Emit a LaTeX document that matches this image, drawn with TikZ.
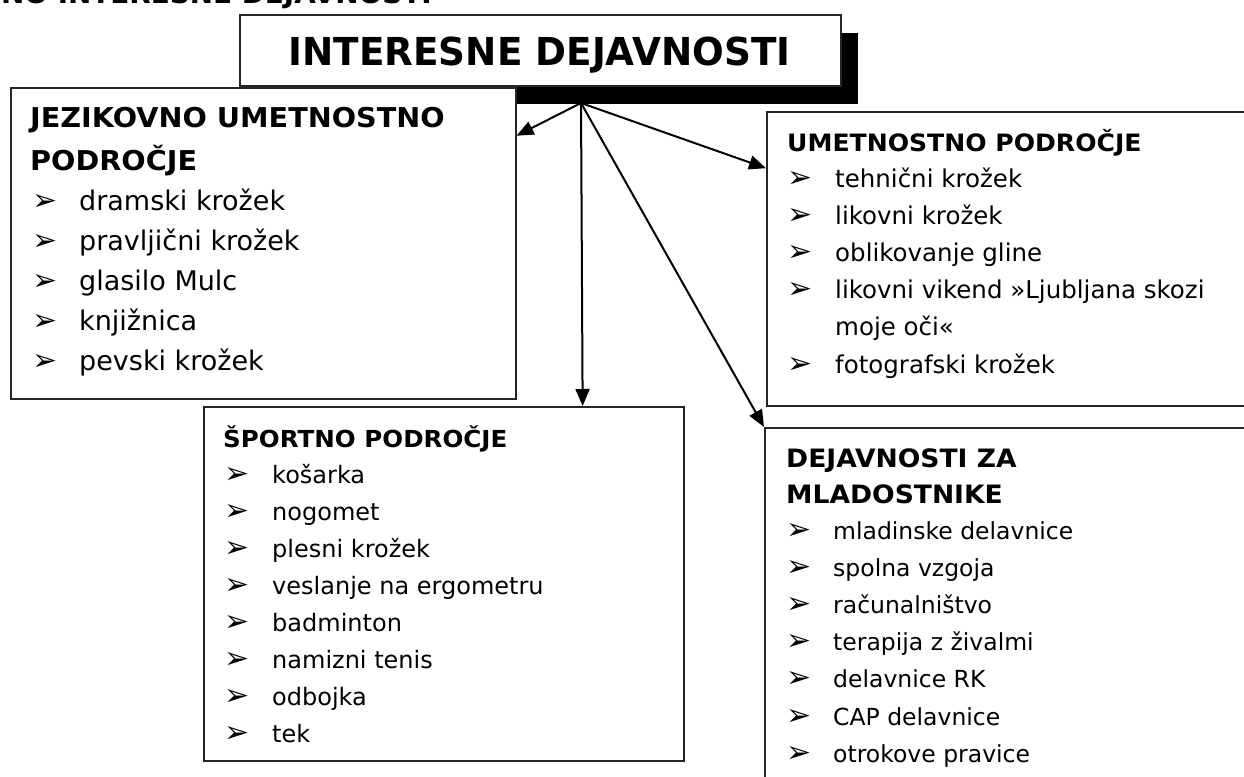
\documentclass[tikz,border=0pt]{standalone}
\usepackage{fontspec}
\setmainfont{DejaVu Sans}
\newfontfamily\hdfont{DejaVu Sans}[FakeStretch=1.05]
\newfontfamily\ttlfont{DejaVu Sans}[FakeStretch=0.97]
\usetikzlibrary{arrows.meta,shadows}
\newcommand{\fsz}[1]{\fontsize{#1}{#1}\selectfont}
\newcommand{\bulc}{\bfseries\fsz{30}➢}
\begin{document}
\begin{tikzpicture}[x=1pt,y=-1pt,
  box/.style={draw=black!85, line width=1.5pt, fill=white, inner sep=0pt, anchor=north west},
  hd/.style={anchor=base west, inner sep=0pt},
  itm/.style={anchor=base west, inner sep=0pt},
  bul/.style={anchor=base west, inner sep=0pt},
  arr/.style={line width=2pt, -{Triangle[length=17pt,width=14pt]}}]
\useasboundingbox (0,0) rectangle (1244,776);
\fill[white] (0,0) rectangle (1244,776);
\clip (0,0) rectangle (1244,776);

% cut-off line at the top
\node[anchor=base east, inner sep=0pt, font=\hdfont\bfseries\fsz{26.5}] (toptext) at (432,4) {NO INTERESNE DEJAVNOSTI};

% title box with shadow
\node[box, line width=2pt, minimum width=601pt, minimum height=71pt,
  drop shadow={shadow xshift=17pt, shadow yshift=-18pt, fill=black, opacity=1}] (title) at (239,14) {};
\node[anchor=base, inner sep=0pt, font=\ttlfont\bfseries\fsz{38.5}] (ttext) at (539.5,66) {INTERESNE DEJAVNOSTI};
\coordinate (hub) at (581,103);

% boxes
\node[box, minimum width=505pt, minimum height=311pt] (jez) at (10,87) {};
\node[box, minimum width=496pt, minimum height=294pt] (umet) at (766,111) {};
\node[box, minimum width=480pt, minimum height=354pt] (sport) at (203,406) {};
\node[box, minimum width=498pt, minimum height=373pt] (mlad) at (764,427) {};

% arrows
\draw[arr] (hub) -- (jez.23.4);
\draw[arr] (hub) -- (umet.160.9);
\draw[arr] (hub) -- (sport.52.06);
\draw[arr] (hub) -- (mlad.north west);

% JEZIKOVNO UMETNOSTNO PODROCJE
\node[hd, font=\hdfont\bfseries\fsz{27.3}] (jh1) at (30,127) {JEZIKOVNO UMETNOSTNO};
\node[hd, font=\hdfont\bfseries\fsz{27.3}] (jh2) at (30,170) {PODROČJE};
\foreach \t [count=\i] in {dramski krožek, pravljični krožek, glasilo Mulc, knjižnica, pevski krožek} {
  \node[bul] (jb\i) at (32,170+40*\i) {\bulc};
  \node[itm, font=\fsz{27}] (jt\i) at (79,170+40*\i) {\t};
}

% UMETNOSTNO PODROCJE
\node[hd, font=\hdfont\bfseries\fsz{23.9}] (uh1) at (787,151) {UMETNOSTNO PODROČJE};
\foreach \t/\y [count=\i] in {tehnični krožek/187, likovni krožek/224.2, oblikovanje gline/261.4, likovni vikend »Ljubljana skozi/298.6, fotografski krožek/373} {
  \node[bul] (ub\i) at (787,\y) {\bulc};
  \node[itm, font=\fsz{24.5}] (ut\i) at (835,\y) {\t};
}
\node[itm, font=\fsz{24.5}] (ut6) at (835,335.8) {moje oči«};

% SPORTNO PODROCJE
\node[hd, font=\hdfont\bfseries\fsz{23.4}] (sh1) at (223,447) {ŠPORTNO PODROČJE};
\foreach \t [count=\i] in {košarka, nogomet, plesni krožek, veslanje na ergometru, badminton, namizni tenis, odbojka, tek} {
  \node[bul] (sb\i) at (224,445.9+37.1*\i) {\bulc};
  \node[itm, font=\fsz{24}] (st\i) at (272,445.9+37.1*\i) {\t};
}

% DEJAVNOSTI ZA MLADOSTNIKE
\node[hd, font=\hdfont\bfseries\fsz{25.3}] (mh1) at (786,467) {DEJAVNOSTI ZA};
\node[hd, font=\hdfont\bfseries\fsz{25.3}] (mh2) at (786,503) {MLADOSTNIKE};
\foreach \t [count=\i] in {mladinske delavnice, spolna vzgoja, računalništvo, terapija z živalmi, delavnice RK, CAP delavnice, otrokove pravice} {
  \node[bul] (mb\i) at (786,501.8+37.2*\i) {\bulc};
  \node[itm, font=\fsz{23.5}] (mt\i) at (833,501.8+37.2*\i) {\t};
}
\end{tikzpicture}
\end{document}
